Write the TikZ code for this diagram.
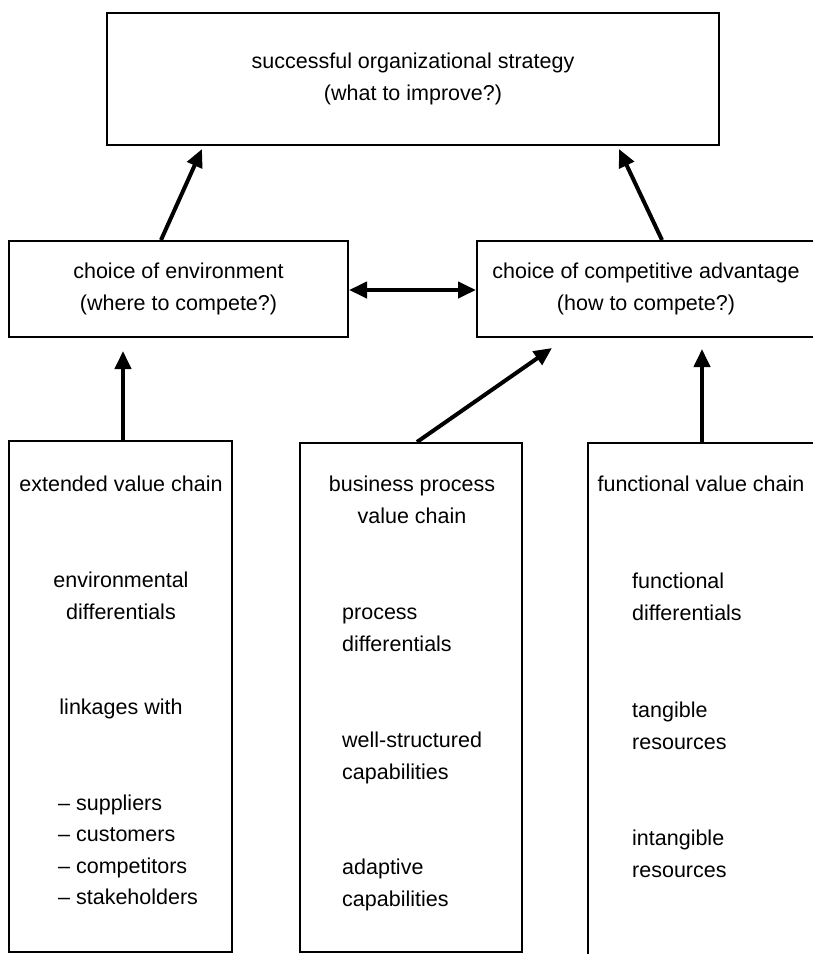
\documentclass[tikz,border=0pt]{standalone}
\usepackage{fontspec}
\setmainfont{Liberation Sans}
\usetikzlibrary{arrows.meta}
\tikzset{box/.style={draw,line width=2pt,inner sep=0pt,align=center},
  lbl/.style={inner sep=0pt,anchor=base},
  lleft/.style={inner sep=0pt,anchor=base west},
  link/.style={line width=4pt,->}}

\begin{document}
\begin{tikzpicture}[x=1pt,y=-1pt,>={Triangle[length=18pt,width=16pt]},font=\fontsize{21.5}{32.5}\selectfont]
\clip (0,0) rectangle (813,954);
\node[box,minimum width=612pt,minimum height=132pt](top) at (413,79){successful organizational strategy\\(what to improve?)};
\node[box,minimum width=339pt,minimum height=96pt](env) at (178.5,289){choice of environment\\(where to compete?)};
\node[box,minimum width=338pt,minimum height=96pt](adv) at (646,289){choice of competitive advantage\\(how to compete?)};
\node[box,minimum width=223pt,minimum height=511pt](ext) at (120.5,696.5){};
\node[box,minimum width=222pt,minimum height=509pt](proc) at (411,697.5){};
\node[box,minimum width=232pt,minimum height=517pt](func) at (704,701.5){};
\draw[link]([xshift=-17.5pt]env.north)--([xshift=-211pt,yshift=-3pt]top.south);
\draw[link]([xshift=16pt]adv.north)--([xshift=206pt,yshift=-3pt]top.south);
\draw[link,<->]([yshift=-1pt]env.east)--([yshift=-1pt]adv.west);
\draw[link]([xshift=2.5pt]ext.north)--([xshift=-55.5pt,yshift=-13pt]env.south);
\draw[link]([xshift=6pt]proc.north)--([xshift=-94pt,yshift=-10pt]adv.south);
\draw[link]([xshift=-2pt]func.north)--([xshift=56pt,yshift=-11pt]adv.south);
\foreach \t/\y [count=\i] in {extended value chain/485,environmental/581,differentials/613,linkages with/708}
  \node[lbl](e\i) at (121,\y+6){\t};
\foreach \t/\y [count=\i] in {-- suppliers/804,-- customers/835,-- competitors/867,-- stakeholders/898}
  \node[lleft](s\i) at (58,\y+6){\t};
\foreach \t/\y [count=\i] in {business process/485,value chain/517}
  \node[lbl](p\i) at (412,\y+6){\t};
\foreach \t/\y [count=\i] in {process/613,differentials/645,well-structured/741,capabilities/773,adaptive/868,capabilities/900}
  \node[lleft](q\i) at (342,\y+6){\t};
\node[lbl](f0) at (701,491){functional value chain};
\foreach \t/\y [count=\i] in {functional/582,differentials/614,tangible/711,resources/743,intangible/839,resources/871}
  \node[lleft](f\i) at (632,\y+6){\t};
\end{tikzpicture}
\end{document}
